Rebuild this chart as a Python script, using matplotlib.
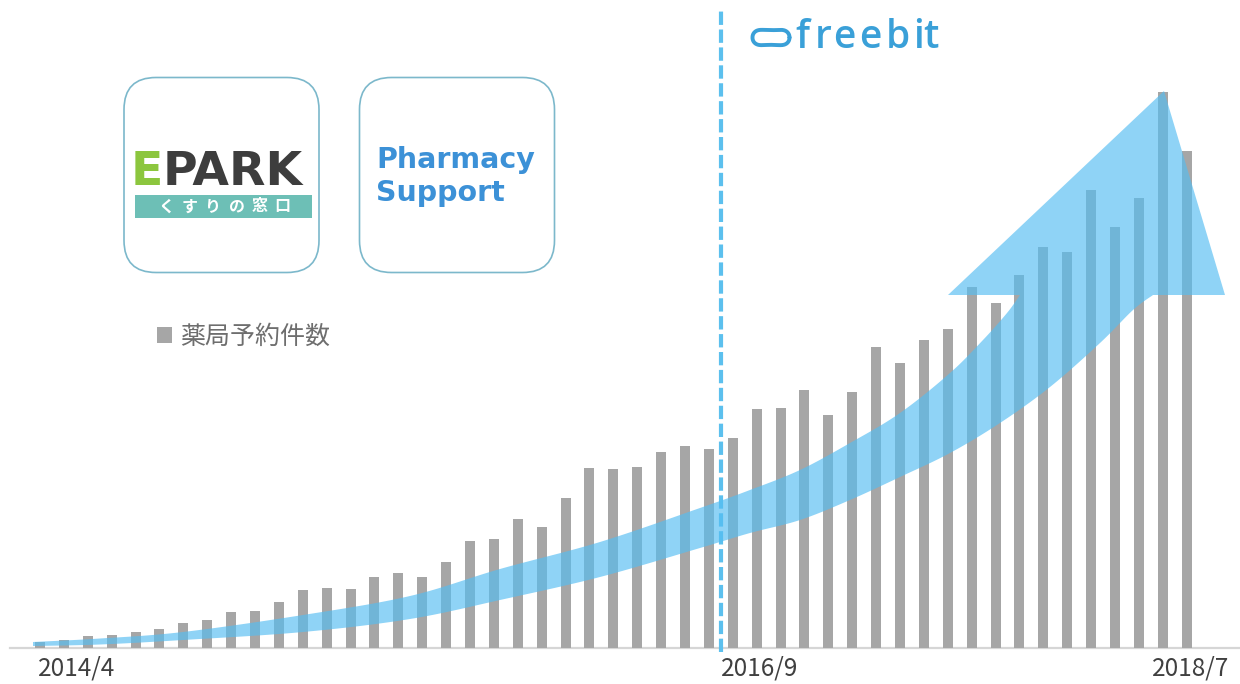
import numpy as np
import matplotlib
matplotlib.use("Agg")
import matplotlib.pyplot as plt
from matplotlib.patches import FancyBboxPatch, Rectangle, Polygon, Patch

# ---------------- data ----------------
# monthly pharmacy reservation counts (relative units)
bookings = [6, 8, 12, 13, 16, 19, 25, 28, 36, 37, 46, 58, 60, 59, 71, 75, 71,
            86, 107, 109, 129, 121, 150, 180, 179, 181, 196, 202, 199, 210,
            239, 240, 258, 233, 256, 301, 285, 308, 319, 361, 345, 373, 401,
            396, 458, 421, 450, 556, 497]
tick_labels = ["2014/4", "2016/9", "2018/7"]
legend_label = "薬局予約件数"
freebit_text = "freebit"
epark_sub = "くすりの窓口"

plt.rcParams['font.family'] = ['Noto Sans CJK JP', 'DejaVu Sans']

W, H = 1240, 684
fig = plt.figure(figsize=(W / 100, H / 100), dpi=100)
fig.patch.set_facecolor("white")

# main data axes (full figure)
ax = fig.add_axes([0, 0, 1, 1])
x = np.arange(len(bookings))
step = (1186.7 - 40) / 48.0
ax.set_xlim(-40 / step, (W - 40) / step)
ax.set_ylim(-(H - 648), 648)
ax.axis("off")

ax.axhline(0, xmin=10 / W, xmax=1, color="#D6D6D6", lw=1.6, zorder=1)
bars = ax.bar(x, bookings, width=0.42, color="#A6A6A6", zorder=2, label=legend_label)

# boundary line (freebit start)
split = 28.5
ax.axvline(split, ymin=1 - 652 / H, ymax=1 - 8 / H, color="#5CC0EE", lw=3.0,
           dashes=(3.2, 1.1), zorder=3)

# x labels
lab_kw = dict(fontsize=17.5, color="#404040", va="center", family=['Noto Sans CJK JP', 'DejaVu Sans'])
ax.text(x[0] - 0.1, -20, tick_labels[0], ha="left", **lab_kw)
ax.text(split, -20, tick_labels[1], ha="left", **lab_kw)
ax.text(x[-1] + 1.8, -20, tick_labels[2], ha="right", **lab_kw)

# legend
leg = ax.legend(handles=[Patch(facecolor="#A6A6A6", edgecolor="none", label=legend_label)],
                loc="center left", bbox_to_anchor=(157 / W, 1 - 337 / H),
                bbox_transform=fig.transFigure, frameon=False,
                handlelength=0.58, handleheight=0.58, handletextpad=0.33,
                borderpad=0, borderaxespad=0,
                prop={'family': 'Noto Sans CJK JP', 'size': 18})
for t in leg.get_texts():
    t.set_color("#6E6E6E")

# ---------------- decoration overlay (pixel coordinates) ----------------
ov = fig.add_axes([0, 0, 1, 1])
ov.set_xlim(0, W)
ov.set_ylim(H, 0)
ov.axis("off")
ov.patch.set_alpha(0)


def catmull(pts, n=24):
    pts = np.asarray(pts, float)
    P = np.vstack([pts[0], pts, pts[-1]])
    out = []
    t = np.linspace(0, 1, n, endpoint=False)[:, None]
    for i in range(1, len(P) - 2):
        p0, p1, p2, p3 = P[i - 1], P[i], P[i + 1], P[i + 2]
        seg = 0.5 * ((2 * p1) + (-p0 + p2) * t + (2 * p0 - 5 * p1 + 4 * p2 - p3) * t ** 2
                     + (-p0 + 3 * p1 - 3 * p2 + p3) * t ** 3)
        out.append(seg)
    out.append(pts[-1:])
    return np.vstack(out)


upper = [(33, 642), (100, 638.5), (183, 632), (303, 615), (410, 596), (500, 569),
         (600, 542), (700, 508), (750, 490), (800, 470), (850, 443), (900, 413),
         (950, 373), (983, 340), (1007, 313), (1020, 295)]
lower = [(33, 646), (100, 644.5), (183, 640), (303, 632), (410, 619), (500, 600),
         (600, 577), (700, 548), (750, 533), (800, 520), (850, 500), (900, 477),
         (950, 453), (1000, 423), (1050, 387), (1100, 343), (1133, 310), (1153, 295)]
up = catmull(upper)
lo = catmull(lower)
head = np.array([(948, 295), (1164, 91), (1225, 295)])
arrow_pts = np.vstack([up, head, lo[::-1]])
ov.add_patch(Polygon(arrow_pts, closed=True, facecolor="#55BDF2", edgecolor="none",
                     alpha=0.66, zorder=5))

# logo boxes
for x0 in (124, 359.5):
    ov.add_patch(FancyBboxPatch((x0, 77.5), 195, 195,
                                boxstyle="round,pad=0,rounding_size=32",
                                facecolor="white", edgecolor="#7CB8CB", lw=1.2, zorder=6))

# EPARK logo
ov.text(131, 185, "E", fontsize=34, fontweight="bold", color="#8CC63E",
        family="DejaVu Sans", ha="left", va="baseline", zorder=7)
ov.text(163, 185, "PARK", fontsize=34, fontweight="bold", color="#3D3D3D",
        family="DejaVu Sans", ha="left", va="baseline", zorder=7)
ov.add_patch(Rectangle((135, 195), 177, 23, facecolor="#6DBFB6", edgecolor="none", zorder=7))
for ch, cx in zip(epark_sub, [167, 190, 213, 237, 260, 282]):
    ov.text(cx, 206.5, ch, fontsize=11.5, fontweight="bold", color="white",
            family="Noto Sans CJK JP", ha="center", va="center", zorder=8)

# Pharmacy Support logo
ov.text(376.5, 168, "Pharmacy", fontsize=20.5, fontweight="bold", color="#3C91D7",
        family="DejaVu Sans", ha="left", va="baseline", zorder=7)
ov.text(376.5, 201, "Support", fontsize=20.5, fontweight="bold", color="#3C91D7",
        family="DejaVu Sans", ha="left", va="baseline", zorder=7)

# freebit logo
fb_col = "#3AA0D8"
tt = np.linspace(0, 2 * np.pi, 300)
c, s = np.cos(tt), np.sin(tt)
n = 2.2
cxl, cyl, a, b = 771, 37.5, 18.5, 10.5
xs = cxl + a * np.sign(c) * np.abs(c) ** (2 / n)
ys = cyl + b * np.sign(s) * np.abs(s) ** (2 / n) * (1 - 0.3 * (1 - c ** 2) ** 2)
ov.plot(xs, ys, color=fb_col, lw=2.8, zorder=7, solid_capstyle="round")
for ch, cx in zip(freebit_text, [802.5, 823.5, 844.5, 870.5, 898.0, 918.3, 930.5]):
    ov.text(cx, 47.5, ch, fontsize=28, fontweight="semibold", color=fb_col,
            family="Open Sans", ha="center", va="baseline", zorder=7)

fig.savefig("out.png", dpi=100, facecolor="white")
